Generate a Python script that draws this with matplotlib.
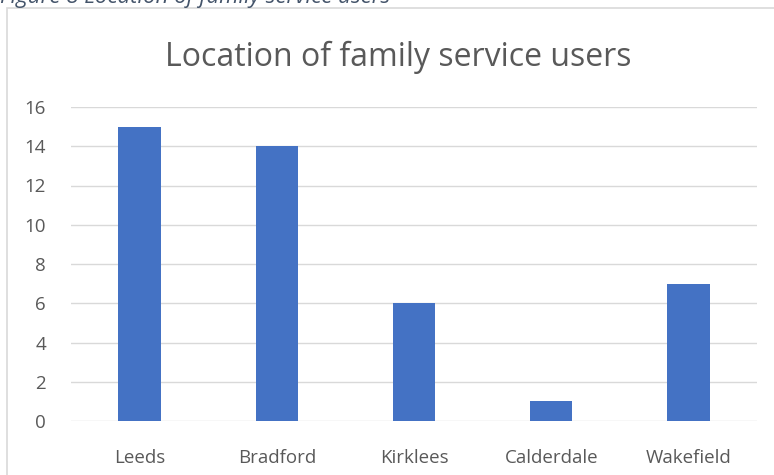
import matplotlib.pyplot as plt
from matplotlib.patches import Rectangle

# family service users by district
districts = ['Leeds', 'Bradford', 'Kirklees', 'Calderdale', 'Wakefield']
users = [15, 14, 6, 1, 7]

W, H = 774, 475
fig = plt.figure(figsize=(W / 100, H / 100), dpi=100)
plt.rcParams['font.family'] = ['Open Sans', 'DejaVu Sans']

# chart frame, partly cut by the page edge
fig.patches.append(Rectangle((7 / W, -0.1), 1.2, 1 - 8 / H + 0.1,
                             transform=fig.transFigure, fill=False,
                             edgecolor='#d9d9d9', linewidth=1.2))

# caption above the frame (top half cut off)
fig.text(0, 1 - 3 / H, 'Figure 8 Location of family service users',
         fontsize=16, style='italic', color='#44546a', va='baseline', ha='left')

ax = fig.add_axes([71 / W, 1 - 421 / H, (757 - 71) / W, (421 - 107) / H])
x = range(len(districts))
ax.bar(x, users, width=0.31, color='#4472c4', zorder=3)
ax.set_xlim(-0.5, len(districts) - 0.5)
ax.set_ylim(0, 16)
ax.set_yticks(range(0, 17, 2))
ax.set_xticks(list(x))
ax.set_xticklabels(districts)
ax.grid(axis='y', color='#d9d9d9', linewidth=1, zorder=0)
for s in ax.spines.values():
    s.set_visible(False)
ax.tick_params(length=0, labelsize=13.5, labelcolor='#595959')
ax.tick_params(axis='x', pad=20)
ax.tick_params(axis='y', pad=18)

fig.text(398 / W, 1 - 57 / H, 'Location of family service users',
         fontsize=23, color='#595959', ha='center', va='center')

fig.savefig('out.png', dpi=100)
